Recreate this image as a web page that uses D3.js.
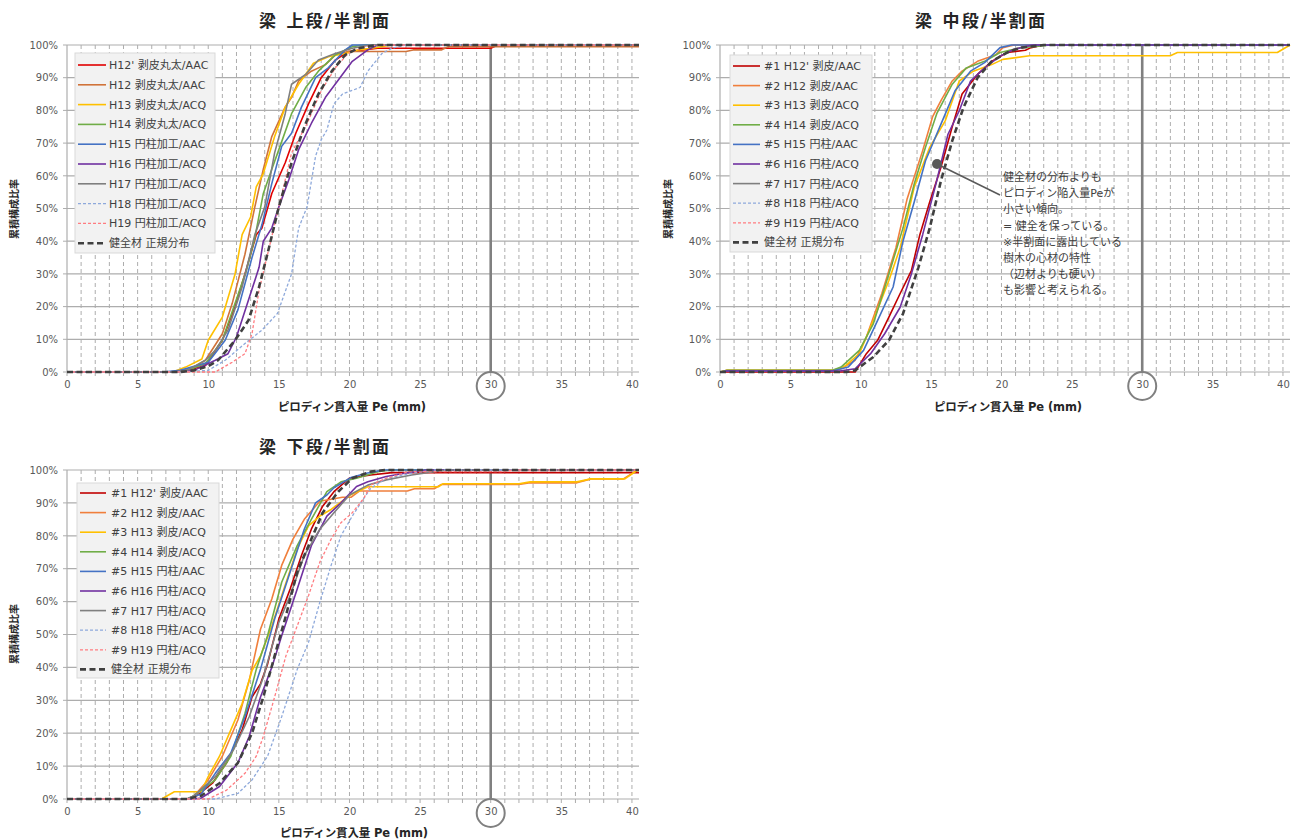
<!DOCTYPE html>
<html><head><meta charset="utf-8">
<script src="https://cdn.jsdelivr.net/npm/d3@7"></script>
<style>
body{margin:0;background:#fff;}
text{font-family:"DejaVu Sans","Noto Sans CJK JP",sans-serif;}
</style>
</head><body><svg id="c" width="1301" height="840"></svg>
<script>
// ---------- tick labels ----------
const xTicks = [0,5,10,15,20,25,30,35,40];
const yTicks = [0,10,20,30,40,50,60,70,80,90,100];
const xMax = 40.5;

// ---------- legend labels ----------
const upperNames = ["H12' 剥皮丸太/AAC","H12 剥皮丸太/AAC","H13 剥皮丸太/ACQ","H14 剥皮丸太/ACQ","H15 円柱加工/AAC","H16 円柱加工/ACQ","H17 円柱加工/ACQ","H18 円柱加工/ACQ","H19 円柱加工/ACQ","健全材 正規分布"];
const midNames = ["#1 H12' 剥皮/AAC","#2 H12 剥皮/AAC","#3 H13 剥皮/ACQ","#4 H14 剥皮/ACQ","#5 H15 円柱/AAC","#6 H16 円柱/ACQ","#7 H17 円柱/ACQ","#8 H18 円柱/ACQ","#9 H19 円柱/ACQ","健全材 正規分布"];
const lowerNames = midNames;

// ---------- 梁 上段 (Pe mm, cumulative %) ----------
const u1 = [[0,0],[7.5,0],[8.5,0.5],[9.8,2],[11,9.7],[11.9,20],[12.6,30],[13.4,42],[13.8,44],[14.5,54.6],[15.45,64],[16.2,73],[17.1,82],[18,90],[19,95.4],[19.9,98],[21,98.5],[22,99],[30,99],[30.5,100],[40.5,100]];
const u2 = [[0,0],[7.5,0],[8.8,1],[9.8,3.6],[11,11.7],[11.7,21],[12.6,36],[13.3,50.5],[13.9,62],[14.5,72],[15.45,81],[15.9,84],[16.4,89],[17.3,92],[18.3,94],[19,97],[19.9,98],[24,98],[24.5,98.5],[26.5,98.5],[27,99.5],[40.5,99.5]];
const u3 = [[0,0],[7.5,0],[8.4,1.5],[9.55,4],[10,9.7],[11,16.8],[11.9,30],[12.4,42],[13,47.4],[13.4,56.6],[13.9,60.7],[14.7,72],[15.45,81],[16.4,88],[17.45,94.4],[18.5,96.4],[19.7,97.4],[20.6,98.5],[21.6,99],[23,100],[40.5,100]];
const u4 = [[0,0],[7.5,0],[8.5,0.5],[9.8,2.5],[11,9.7],[11.9,21],[12.7,31],[13.3,41],[13.9,54.6],[14.5,62],[15,68],[15.9,79],[16.9,87],[17.8,92],[19,97],[20.2,99.5],[21,100],[40.5,100]];
const u5 = [[0,0],[6.8,0],[8,0.5],[10,3],[11.2,9.7],[12.1,19],[13.1,35],[13.8,45],[14.5,57.6],[15.2,69],[15.9,73],[16.6,81],[17.6,90],[18.5,93],[19.7,98.5],[20.2,100],[40.5,100]];
const u6 = [[0,0],[7.5,0],[9,0.5],[10.5,3.6],[11.4,5.6],[12,10.7],[12.85,22],[13.6,32],[13.9,40],[14.5,44],[15,50.5],[15.7,58.7],[16.4,68],[17.3,76],[18.3,84],[19.5,91],[20.2,95],[21.3,98.5],[22,100],[40.5,100]];
const u7 = [[0,0],[7.5,0],[8.5,0.5],[9.8,3.6],[10.5,6.6],[11.4,12.8],[12.4,26],[13.3,42],[14,50.5],[14.7,67],[15.45,79],[15.9,88],[16.9,91],[17.8,95.4],[19,97.4],[20.2,99],[21.5,100],[40.5,100]];
const u8 = [[0,0],[8,0],[10,0.5],[11.2,3.6],[12.6,8.7],[13.8,12.8],[14.9,17.9],[15.9,30],[16.4,44],[17,50.5],[17.6,66],[18,71],[18.4,74],[18.9,82],[19.5,85],[20.75,87],[21.3,92],[22.3,97.4],[23,99],[24,100],[40.5,100]];
const u9 = [[0,0],[10.5,0],[11.7,3],[12.6,5.6],[13.1,11.7],[13.6,25],[14.15,35],[15,50.5],[15.9,67],[17,76],[18,86],[19,93],[19.9,97.4],[21.1,99.5],[22,100],[40.5,100]];
const uNorm = [[0,0],[8,0],[9,0.5],[10,1.8],[10.7,3.6],[11.9,9.7],[12.85,15.8],[13.6,26],[14.3,38],[15,50.5],[15.9,64],[16.9,76],[17.8,85],[18.75,92],[19.7,97],[20.6,99],[22,100],[40.5,100]];

// ---------- 梁 中段 ----------
const m1 = [[0,0],[9.6,0],[10.4,5.6],[11.2,9.7],[12,16.8],[12.8,24],[13.6,31],[14.2,42],[14.9,52],[15.7,62.6],[16.5,75],[17.2,85],[18.3,91],[19.3,95],[20.4,97.7],[21.7,98.4],[22.1,99.2],[23,100],[40.5,100]];
const m2 = [[0,0],[0.5,0.5],[8,0.5],[8.6,1],[9.6,3.6],[10.4,10.7],[11.5,24],[12.5,38],[13.3,53],[14.4,67.7],[15.1,78],[15.7,83],[16.5,89],[17.2,92],[18.3,95],[19.6,97],[20.1,99.2],[20.9,100],[40.5,100]];
const m3 = [[0,0],[0.5,0.5],[8,0.5],[8.8,1.5],[9.9,5.6],[10.9,15.8],[12,28],[12.8,38],[13.8,56.5],[14.9,68.7],[16,76.8],[17,89],[18,92],[19.3,94],[20.1,95.6],[22,96.7],[32,96.7],[32.5,97.7],[39.6,97.7],[40.5,100]];
const m4 = [[0,0],[0.5,0.5],[8,0.5],[8.6,1.5],[9.9,6.6],[10.9,14.8],[12,30],[13,44],[13.8,57.5],[14.6,68.7],[15.4,79],[16.5,88],[17.5,93],[18.8,95],[19.9,97.7],[21.4,99.2],[23.5,100],[40.5,100]];
const m5 = [[0,0],[0.5,0.3],[8,0.3],[9.1,1.5],[10.2,6.6],[11.2,15.8],[12.3,26],[13,40],[13.8,52],[14.6,64.6],[15.7,75.8],[16.7,86],[17.8,92],[18.8,94.6],[19.9,99.2],[20.7,100],[40.5,100]];
const m6 = [[0,0],[0.5,0.3],[8.5,0.3],[9.6,1],[10.7,5.6],[11.7,11.7],[12.8,19.8],[13.6,30],[14.4,42],[15.4,58.5],[16.2,72.7],[17,79.9],[17.8,89],[18.8,93],[19.9,96.6],[20.9,98.7],[22.2,100],[40.5,100]];
const m7 = [], m8 = [], m9 = [];
const mNorm = [[0,0],[9,0],[9.6,0.5],[10.9,4.6],[12,9.7],[13,17.8],[14.1,32],[14.9,44],[15.7,58.5],[16.5,70.7],[17.3,80.9],[18.3,90],[19.3,95],[20.4,97.7],[21.4,99.2],[23,100],[40.5,100]];

// ---------- 梁 下段 ----------
const l1 = [[0,0],[8.5,0],[9.2,1],[10.3,4.8],[11.3,11],[12.4,21],[13.1,31],[13.7,35],[14.2,41],[15,54.7],[15.8,63.8],[16.6,74],[17.3,82],[18.1,89],[18.9,93.4],[20,97.5],[21.5,98.5],[23,99.2],[40.5,99.2]];
const l2 = [[0,0],[8.5,0],[9,1],[10,5.8],[11,13],[12.1,24],[12.9,36],[13.7,51.6],[14.5,60.8],[15.2,71],[16,79],[16.8,85],[17.9,90.5],[19.5,91.7],[20.1,91.7],[20.7,93.6],[24.1,93.6],[24.6,94.3],[26,94.3],[26.5,95.6],[32,95.6],[32.8,96.1],[36.1,96.1],[37.1,97.3],[39.4,97.3],[40.4,100],[40.5,100]];
const l3 = [[0,0],[6.7,0],[7.6,2.2],[9.5,2.2],[10,6.8],[10.8,13],[11.6,21],[12.4,29],[13.1,39],[13.7,43.5],[14.5,52.6],[15.2,61.8],[16.3,76],[17.1,83],[17.9,86],[18.7,88],[20.1,92.5],[21.3,94.9],[26.3,94.9],[26.6,95.8],[32,95.8],[32.8,96.4],[36.1,96.4],[37.1,97.3],[39.5,97.3],[40.4,100],[40.5,100]];
const l4 = [[0,0],[8.5,0],[9,1],[10.5,5.8],[11.6,13],[12.6,26],[13.4,39.4],[14.2,49.6],[15.2,65.9],[16.3,77],[17.3,85],[18.4,93.4],[19.4,96.4],[20.5,97.5],[22,99.5],[23,100],[40.5,100]];
const l5 = [[0,0],[8.5,0],[9.5,1.5],[10.5,7.8],[11.6,14],[12.6,25],[13.7,39.4],[14.7,54.7],[15.8,69],[16.8,82],[17.6,90],[18.4,92.4],[18.9,94.6],[20.1,97.7],[21.2,99],[22.4,100],[40.5,100]];
const l6 = [[0,0],[9,0],[9.5,0.3],[10.8,3.8],[12.1,11],[12.9,19],[13.7,31],[14.5,40],[15.2,49.6],[16.3,63.8],[17.3,77],[18.4,86],[19.4,90],[20.5,95],[21.3,96.4],[22.6,98],[23.9,99],[25.5,100],[40.5,100]];
const l7 = [[0,0],[8.5,0],[9,1],[10.5,6.8],[11.8,15],[12.9,25],[13.9,37],[15,53.7],[15.8,61.8],[16.8,74],[17.9,82],[18.9,87],[20,92.4],[21.3,95.4],[22.6,97],[24.4,98.5],[26,99.5],[27,100],[40.5,100]];
const l8 = [[0,0],[10.5,0],[12.1,1.7],[13.1,5.8],[14.2,13],[15.2,25],[16.3,39.4],[17.1,47.6],[17.9,59.8],[18.7,71],[19.4,80],[20.2,86],[21,91.3],[21.5,94.4],[22.6,97.5],[24.4,99],[26,100],[40.5,100]];
const l9 = [[0,0],[10,0],[11.3,2.7],[12.6,7.8],[13.4,13],[13.9,19],[14.7,31],[15.5,43.5],[16.3,52.6],[17.1,61.8],[17.9,72],[18.7,79],[19.4,84],[20.2,87],[21,91.3],[21.5,95.4],[22.6,97.5],[24.2,99.5],[31,99.5],[31.5,100],[40.5,100]];
const lNorm = [[0,0],[8.5,0],[9.5,1],[10.8,4.8],[12.1,11],[13.1,20],[13.9,31],[14.7,43.5],[15.5,55.7],[16.3,69],[17.3,79],[18.1,87],[19.2,93.4],[20.2,97.5],[21.5,99.5],[22.5,100],[40.5,100]];

// ---------- annotation text ----------
const noteLines = ["健全材の分布よりも","ピロディン陥入量Peが","小さい傾向。","= 健全を保っている。","※半割面に露出している","樹木の心材の特性","（辺材よりも硬い）","も影響と考えられる。"];

// ---------- styles ----------
const colorsUpper = ["#E00000","#D0733A","#FFC000","#70AD47","#4472C4","#7030A0","#7F7F7F","#8EA9DB","#FF7C80","#404040"];
const colorsOther = ["#C00000","#F07F3C","#FFC000","#70AD47","#4472C4","#7030A0","#7F7F7F","#8EA9DB","#FF7C80","#404040"];
function seriesStyle(i){
  if(i===9) return {w:2.6, dash:"6,3.5"};
  if(i===7||i===8) return {w:1.3, dash:"3,2"};
  return {w:1.6, dash:null};
}

const panels = [
 {title:"梁 上段/半割面", L:67, R:639, T:45, B:372, tx:324, ty:27, xtX:352, xtY:411, ytX:14, ytY:209,
  names:upperNames, colors:colorsUpper, data:[u1,u2,u3,u4,u5,u6,u7,u8,u9,uNorm],
  lg:{x:75,y:53,w:140,h:200,y0:65,step:19.8,lx0:78,lx1:106,tx:109}},
 {title:"梁 中段/半割面", L:720, R:1290, T:45, B:372, tx:980, ty:27, xtX:1008, xtY:411, ytX:668, ytY:209,
  names:midNames, colors:colorsOther, data:[m1,m2,m3,m4,m5,m6,m7,m8,m9,mNorm],
  lg:{x:730,y:55,w:142,h:197,y0:66,step:19.6,lx0:733,lx1:760,tx:764}},
 {title:"梁 下段/半割面", L:67, R:639, T:470, B:799, tx:324, ty:453, xtX:354, xtY:837, ytX:14, ytY:634,
  names:lowerNames, colors:colorsOther, data:[l1,l2,l3,l4,l5,l6,l7,l8,l9,lNorm],
  lg:{x:77,y:483,w:142,h:195,y0:493,step:19.6,lx0:80,lx1:106,tx:111}}
];

const svg = d3.select("#c");
const gridCol = "#ADADAD";

panels.forEach((p, pi) => {
  const x = d3.scaleLinear().domain([0, xMax]).range([p.L, p.R]);
  const y = d3.scaleLinear().domain([0, 100]).range([p.B, p.T]);
  const g = svg.append("g");

  // horizontal gridlines
  g.selectAll(".hg").data(yTicks.filter(d=>d>0)).join("line")
    .attr("x1", p.L).attr("x2", p.R).attr("y1", d=>y(d)).attr("y2", d=>y(d))
    .attr("stroke", gridCol).attr("stroke-width", 1.2);
  // vertical dashed gridlines every 1 mm
  const minor = d3.range(1, 41).filter(d=>d!==30);
  g.selectAll(".vg").data(minor).join("line")
    .attr("x1", d=>x(d)).attr("x2", d=>x(d)).attr("y1", p.T).attr("y2", p.B)
    .attr("stroke", gridCol).attr("stroke-width", 1).attr("stroke-dasharray", "4,3");

  // axes lines
  g.append("line").attr("x1", p.L).attr("x2", p.R).attr("y1", p.B).attr("y2", p.B).attr("stroke", gridCol).attr("stroke-width", 1.2);
  g.append("line").attr("x1", p.L).attr("x2", p.L).attr("y1", p.T).attr("y2", p.B).attr("stroke", gridCol).attr("stroke-width", 1.2);
  // minor ticks on x axis
  g.selectAll(".mt").data(d3.range(0, 41)).join("line")
    .attr("x1", d=>x(d)).attr("x2", d=>x(d)).attr("y1", p.B).attr("y2", p.B+4)
    .attr("stroke", gridCol).attr("stroke-width", 1);
  // ticks on y axis
  g.selectAll(".yt").data(yTicks).join("line")
    .attr("x1", p.L-4).attr("x2", p.L).attr("y1", d=>y(d)).attr("y2", d=>y(d))
    .attr("stroke", gridCol).attr("stroke-width", 1);

  // axis labels via d3 axes
  const xa = g.append("g").attr("transform", `translate(0,${p.B})`)
    .call(d3.axisBottom(x).tickValues(xTicks).tickSize(0).tickPadding(9));
  const ya = g.append("g").attr("transform", `translate(${p.L},0)`)
    .call(d3.axisLeft(y).tickValues(yTicks).tickSize(0).tickPadding(9).tickFormat(d=>d+"%"));
  [xa, ya].forEach(a => {
    a.select(".domain").remove();
    a.selectAll("text").attr("fill", "#595959").style("font-size", "10px")
      .style("font-family", '"DejaVu Sans",sans-serif');
  });

  // highlight line at 30 and circle
  g.append("line").attr("x1", x(30)).attr("x2", x(30)).attr("y1", p.T).attr("y2", p.B)
    .attr("stroke", "#808080").attr("stroke-width", 2.6);
  g.append("circle").attr("cx", x(30)).attr("cy", p.B + 14).attr("r", 14)
    .attr("fill", "none").attr("stroke", "#808080").attr("stroke-width", 2);

  // clip
  const cid = "clip" + pi;
  svg.append("clipPath").attr("id", cid).append("rect")
    .attr("x", p.L).attr("y", p.T - 3).attr("width", p.R - p.L + 2).attr("height", p.B - p.T + 6);

  const line = d3.line().x(d=>x(d[0])).y(d=>y(d[1]));
  const lg = svg.append("g").attr("clip-path", `url(#${cid})`);
  p.data.forEach((s, i) => {
    if(!s.length) return;
    const st = seriesStyle(i);
    lg.append("path").datum(s).attr("d", line)
      .attr("fill", "none").attr("stroke", p.colors[i]).attr("stroke-width", st.w)
      .attr("stroke-dasharray", st.dash).attr("stroke-linejoin", "round");
  });

  // titles
  svg.append("text").attr("x", p.tx).attr("y", p.ty).attr("text-anchor", "middle")
    .attr("textLength", 130).attr("lengthAdjust", "spacing")
    .style("font-size", "17px").style("font-weight", "bold").attr("fill", "#262626").text(p.title);
  svg.append("text").attr("x", p.xtX).attr("y", p.xtY).attr("text-anchor", "middle")
    .attr("textLength", 148).attr("lengthAdjust", "spacing")
    .style("font-size", "11.5px").style("font-weight", "bold").attr("fill", "#262626").text("ピロディン貫入量 Pe (mm)");
  svg.append("text").attr("transform", `translate(${p.ytX + 4},${p.ytY}) rotate(-90)`).attr("text-anchor", "middle")
    .style("font-size", "10px").style("font-weight", "bold").attr("fill", "#262626").text("累積構成比率");

  // legend
  const L = p.lg;
  const leg = svg.append("g");
  leg.append("rect").attr("x", L.x).attr("y", L.y).attr("width", L.w).attr("height", L.h)
    .attr("fill", "#F2F2F2").attr("stroke", "#D9D9D9").attr("stroke-width", 1);
  p.names.forEach((n, i) => {
    const yy = L.y0 + i * L.step;
    const st = seriesStyle(i);
    leg.append("line").attr("x1", L.lx0).attr("x2", L.lx1).attr("y1", yy).attr("y2", yy)
      .attr("stroke", p.colors[i]).attr("stroke-width", st.w).attr("stroke-dasharray", st.dash);
    leg.append("text").attr("x", L.tx).attr("y", yy + 4).style("font-size", "11px")
      .attr("fill", "#404040").text(n);
  });
});

// annotation on middle chart
const ann = svg.append("g");
ann.append("line").attr("x1", 937).attr("y1", 164).attr("x2", 1000).attr("y2", 195)
  .attr("stroke", "#595959").attr("stroke-width", 1.5);
ann.append("circle").attr("cx", 937).attr("cy", 164).attr("r", 5).attr("fill", "#595959");
noteLines.forEach((t, i) => {
  ann.append("text").attr("x", 1003).attr("y", 181 + i * 16.2).style("font-size", "11px")
    .attr("fill", "#404040").text(t);
});
</script>
</body></html>
